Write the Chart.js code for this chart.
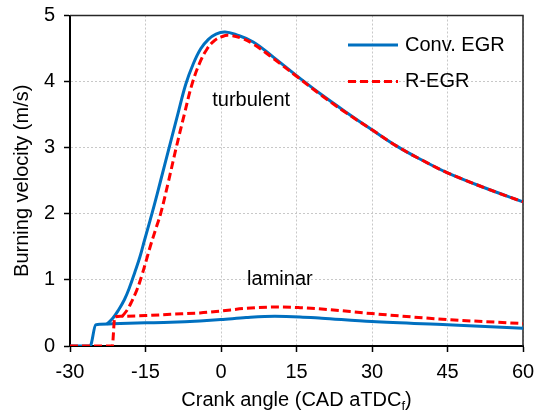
<!DOCTYPE html>
<html>
<head>
<meta charset="utf-8">
<title>Burning velocity</title>
<script src="https://cdn.jsdelivr.net/npm/chart.js@4.4.1/dist/chart.umd.min.js"></script>
<style>
html,body{margin:0;padding:0;background:#fff;}
#wrap{width:539px;height:418px;}
</style>
</head>
<body>
<div id="wrap"><canvas id="burnChart" width="539" height="418"></canvas></div>
<script>

/* ===============================
   DATA
=============================== */

// Conv. EGR - turbulent branch
const convTurbAngle = [-22.7,-21.5,-20.4,-19.2,-18.2,-17.1,-16.1,-15.2,-14.2,-13.3,-12,-10.3,-8.5,-7,-5.5,-4,-2.5,-1,0.8,3,6.4,10.4,15,20,25,30,35,40,45,52.5,60];
const convTurbVel   = [0.33,0.42,0.54,0.70,0.88,1.12,1.35,1.60,1.87,2.12,2.50,3.0,3.53,3.96,4.27,4.50,4.64,4.72,4.75,4.71,4.60,4.37,4.09,3.80,3.53,3.27,3.02,2.81,2.62,2.39,2.18];

// Conv. EGR - laminar branch
const convLamAngle = [-30,-26,-24.9,-24,-20,-15,-10,-4.2,0,5,10.7,15.7,20,30,45,60];
const convLamVel   = [0,0,0.32,0.33,0.34,0.35,0.36,0.38,0.40,0.43,0.45,0.44,0.42,0.37,0.32,0.27];

// R-EGR - turbulent branch
const rTurbAngle = [-19.6,-18.6,-17.7,-16.7,-15.8,-14.9,-14,-13,-12,-10.5,-8.9,-7.3,-5.8,-4.3,-2.8,-1.3,0.2,1.4,4,6.4,10.4,15,20,25,30,35,40,45,52.5,60];
const rTurbVel   = [0.45,0.55,0.68,0.85,1.05,1.28,1.52,1.76,2.0,2.47,3.0,3.5,3.95,4.27,4.49,4.62,4.68,4.70,4.66,4.57,4.35,4.08,3.79,3.52,3.27,3.02,2.81,2.62,2.39,2.18];

// R-EGR - laminar branch
const rLamAngle = [-30,-21.6,-21.1,-20,-15,-10,-4.2,0,5,11.7,15.7,20,30,45,60];
const rLamVel   = [0,0,0.44,0.45,0.46,0.48,0.50,0.53,0.57,0.59,0.58,0.56,0.49,0.40,0.34];

const legendNames = ["Conv. EGR","R-EGR"];
const noteText  = ["turbulent","laminar"];
const noteAngle = [6.0, 11.7];
const noteVel   = [3.72, 1.0];

const BLUE = "#0070C0";
const RED = "#FF0000";
const FONT = "'Liberation Sans', Arial, sans-serif";

function pts(xs, ys){
    return xs.map((x,i)=>({x:x, y:ys[i]}));
}

// smooth=true -> bezier tension, otherwise monotone (keeps the steps flat)
function series(data, color, dashed, order, smooth){
    const ds = {
        data: data,
        borderColor: color,
        backgroundColor: color,
        borderWidth: 3,
        borderDash: dashed ? [8,4] : [],
        pointRadius: 0,
        fill: false,
        order: order
    };
    if(smooth) ds.tension = 0.4;
    else ds.cubicInterpolationMode = "monotone";
    return ds;
}


/* ===============================
   FRAME, NOTES, LEGEND, X TITLE
=============================== */

const extras = {
    id: "extras",
    beforeDatasetsDraw(chart){
        const {ctx, chartArea:a} = chart;
        ctx.save();
        ctx.strokeStyle = "#262626";
        ctx.lineWidth = 1.5;
        ctx.beginPath();
        ctx.moveTo(a.left, a.top);
        ctx.lineTo(a.right, a.top);
        ctx.lineTo(a.right, a.bottom);
        ctx.stroke();
        ctx.restore();
    },
    afterDraw(chart){
        const {ctx, chartArea:a} = chart;
        const xs = chart.scales.x, ys = chart.scales.y;
        ctx.save();
        ctx.font = "20px " + FONT;
        ctx.fillStyle = "#000";
        ctx.textAlign = "center";
        ctx.textBaseline = "middle";

        noteText.forEach((t,i)=>{
            ctx.fillText(t, xs.getPixelForValue(noteAngle[i]), ys.getPixelForValue(noteVel[i]));
        });

        // legend
        const colors = [BLUE, RED];
        const rows = [a.top + 29.5, a.top + 66];
        ctx.textAlign = "left";
        legendNames.forEach((name,i)=>{
            ctx.save();
            ctx.strokeStyle = colors[i];
            ctx.lineWidth = 3;
            ctx.setLineDash(i===1 ? [8,4] : []);
            ctx.beginPath();
            ctx.moveTo(a.right - 175, rows[i]);
            ctx.lineTo(a.right - 125, rows[i]);
            ctx.stroke();
            ctx.restore();
            ctx.fillText(name, a.right - 118, rows[i]);
        });

        // x axis title with subscript f
        const main = "Crank angle (CAD aTDC";
        ctx.textBaseline = "alphabetic";
        const w1 = ctx.measureText(main).width;
        ctx.font = "13px " + FONT;
        const w2 = ctx.measureText("f").width;
        ctx.font = "20px " + FONT;
        const w3 = ctx.measureText(")").width;
        let x0 = (a.left + a.right)/2 - (w1+w2+w3)/2;
        const base = 406;
        ctx.fillText(main, x0, base);
        ctx.font = "13px " + FONT;
        ctx.fillText("f", x0 + w1, base + 4);
        ctx.font = "20px " + FONT;
        ctx.fillText(")", x0 + w1 + w2, base);
        ctx.restore();
    }
};


/* ===============================
   CHART
=============================== */

new Chart(document.getElementById("burnChart"), {
    type: "line",
    data: {
        datasets: [
            series(pts(convTurbAngle, convTurbVel), BLUE, false, 2, true),
            series(pts(convLamAngle, convLamVel), BLUE, false, 2, false),
            series(pts(rTurbAngle, rTurbVel), RED, true, 1, true),
            series(pts(rLamAngle, rLamVel), RED, true, 1, false)
        ]
    },
    options: {
        responsive: false,
        animation: false,
        layout: { padding: { top: 15.5, right: 16, left: 0, bottom: 0 } },
        plugins: {
            legend: { display: false },
            tooltip: { enabled: false }
        },
        scales: {
            x: {
                type: "linear",
                min: -30, max: 60,
                afterFit(s){ s.height = 72; s.paddingLeft = 0; s.paddingRight = 0; },
                ticks: { stepSize: 15, color: "#000", padding: 8, font: { family: FONT, size: 20 } },
                grid: { color: "#c8c8c8", tickColor: "#000", tickLength: 6, tickWidth: 1.5 },
                border: { color: "#000", width: 2, dash: [2,2] }
            },
            y: {
                min: 0, max: 5,
                afterFit(s){ s.width = 70; s.paddingTop = 0; s.paddingBottom = 0; },
                ticks: { stepSize: 1, color: "#000", padding: 9, font: { family: FONT, size: 20 } },
                grid: { color: "#c8c8c8", tickColor: "#000", tickLength: 6, tickWidth: 1.5 },
                border: { color: "#000", width: 2, dash: [2,2] },
                title: { display: true, text: "Burning velocity (m/s)", color: "#000", padding: { top: 10 }, font: { family: FONT, size: 20 } }
            }
        }
    },
    plugins: [extras]
});

</script>
</body>
</html>
